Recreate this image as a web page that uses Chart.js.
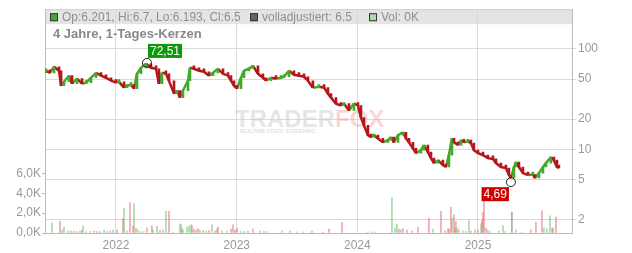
<!DOCTYPE html>
<html>
<head>
<meta charset="utf-8">
<script src="https://cdn.jsdelivr.net/npm/chart.js@4/dist/chart.umd.min.js"></script>
<style>
  html, body { margin: 0; padding: 0; background: #fff; }
  #wrap { width: 632px; height: 253px; }
</style>
</head>
<body>
<div id="wrap"><canvas id="priceChart" width="632" height="253"></canvas></div>
<script>
// dates are decimal years
var candleDates = [
  2021.412, 2021.420, 2021.453, 2021.487, 2021.528, 2021.545, 2021.569, 2021.611, 2021.636, 2021.677,
  2021.719, 2021.752, 2021.793, 2021.835, 2021.876, 2021.917, 2021.959, 2022.000, 2022.025, 2022.067,
  2022.091, 2022.125, 2022.149, 2022.174, 2022.207, 2022.249, 2022.290, 2022.332, 2022.356, 2022.381,
  2022.414, 2022.439, 2022.481, 2022.506, 2022.530, 2022.555, 2022.597, 2022.613, 2022.646, 2022.688,
  2022.729, 2022.771, 2022.804, 2022.845, 2022.887, 2022.928, 2022.953, 2022.978, 2023.003, 2023.036,
  2023.061, 2023.102, 2023.135, 2023.177, 2023.218, 2023.243, 2023.284, 2023.326, 2023.367, 2023.392,
  2023.434, 2023.475, 2023.516, 2023.558, 2023.591, 2023.632, 2023.682, 2023.724, 2023.757, 2023.782,
  2023.823, 2023.864, 2023.889, 2023.931, 2023.972, 2024.005, 2024.030, 2024.055, 2024.088, 2024.113,
  2024.138, 2024.171, 2024.212, 2024.254, 2024.279, 2024.303, 2024.337, 2024.378, 2024.403, 2024.428,
  2024.461, 2024.486, 2024.527, 2024.552, 2024.585, 2024.610, 2024.635, 2024.668, 2024.709, 2024.734,
  2024.759, 2024.784, 2024.801, 2024.834, 2024.859, 2024.883, 2024.917, 2024.941, 2024.966, 2025.000,
  2025.041, 2025.082, 2025.124, 2025.149, 2025.190, 2025.231, 2025.256, 2025.273, 2025.298, 2025.314,
  2025.339, 2025.372, 2025.414, 2025.455, 2025.472, 2025.505, 2025.538, 2025.563, 2025.604, 2025.629,
  2025.654, 2025.670
];
var candleCloses = [
  59.2, 60.6, 57.8, 66.4, 60.6, 43.0, 47.1, 54.1, 45.0, 50.5,
  45.0, 46.1, 51.6, 57.8, 54.1, 51.6, 48.2, 46.1, 47.0, 41.1,
  43.0, 44.0, 40.2, 56.5, 64.8, 71.0, 64.8, 63.4, 45.0, 57.8,
  56.5, 48.2, 35.8, 38.4, 32.7, 38.4, 48.2, 64.8, 63.4, 60.6,
  59.2, 54.1, 57.8, 63.4, 56.5, 54.1, 48.2, 43.0, 40.2, 51.6,
  60.6, 63.4, 67.9, 56.5, 51.6, 48.2, 51.6, 50.5, 51.6, 52.8,
  60.6, 55.3, 54.1, 52.8, 48.2, 41.1, 42.0, 41.1, 35.8, 32.7,
  28.5, 27.3, 28.5, 24.3, 28.5, 27.3, 20.7, 17.3, 13.8, 13.2,
  13.8, 12.8, 11.7, 12.3, 13.2, 11.7, 13.8, 14.7, 12.8, 11.7,
  10.2, 9.13, 9.77, 11.0, 9.34, 8.14, 7.27, 7.78, 6.95, 6.64,
  8.72, 12.8, 11.7, 11.0, 12.3, 11.7, 12.0, 11.5, 9.77, 9.13,
  8.72, 8.14, 8.0, 7.27, 6.64, 6.49, 5.53, 5.16, 6.64, 7.43,
  6.64, 5.78, 5.53, 5.6, 5.16, 5.78, 6.64, 7.27, 8.33, 7.78,
  6.64, 6.5
];

// volume in thousands, u = up day, d = down day, n = unchanged
var volDates = [
  2021.470, 2021.536, 2021.553, 2021.569, 2021.603, 2021.627, 2021.652, 2021.677, 2021.702, 2021.719,
  2021.727, 2021.752, 2021.785, 2021.818, 2021.843, 2021.868, 2021.901, 2021.926, 2021.951, 2021.975,
  2022.009, 2022.058, 2022.067, 2022.091, 2022.116, 2022.141, 2022.149, 2022.166, 2022.183, 2022.207,
  2022.232, 2022.257, 2022.298, 2022.307, 2022.340, 2022.365, 2022.390, 2022.414, 2022.439, 2022.472,
  2022.530, 2022.539, 2022.547, 2022.555, 2022.588, 2022.605, 2022.622, 2022.630, 2022.646, 2022.663,
  2022.679, 2022.696, 2022.721, 2022.746, 2022.771, 2022.795, 2022.820, 2022.837, 2022.845, 2022.878,
  2022.920, 2022.953, 2022.970, 2022.986, 2023.003, 2023.036, 2023.061, 2023.094, 2023.135, 2023.193,
  2023.226, 2023.251, 2023.375, 2023.442, 2023.500, 2023.550, 2023.624, 2023.715, 2023.765, 2023.873,
  2024.088, 2024.121, 2024.146, 2024.287, 2024.312, 2024.328, 2024.345, 2024.361, 2024.378, 2024.411,
  2024.453, 2024.502, 2024.593, 2024.626, 2024.693, 2024.726, 2024.751, 2024.759, 2024.776, 2024.784,
  2024.801, 2024.809, 2024.817, 2024.826, 2024.842, 2024.875, 2024.900, 2024.925, 2024.941, 2024.975,
  2025.000, 2025.025, 2025.033, 2025.041, 2025.050, 2025.066, 2025.082, 2025.099, 2025.174, 2025.207,
  2025.223, 2025.281, 2025.314, 2025.364, 2025.439, 2025.480, 2025.530, 2025.546, 2025.571, 2025.596,
  2025.613, 2025.621, 2025.646
];
var volValues = [
  1.0, 1.17, 0.3, 0.6, 0.2, 0.2, 0.2, 0.15, 0.2, 0.3,
  0.73, 0.15, 0.15, 0.2, 0.15, 0.15, 0.3, 0.15, 0.2, 0.3,
  0.3, 1.43, 2.5, 0.2, 3.07, 0.73, 2.93, 0.5, 0.3, 0.15,
  0.15, 0.5, 0.73, 0.3, 0.67, 0.25, 0.3, 2.17, 2.17, 0.1,
  0.83, 0.93, 0.5, 0.3, 0.6, 0.73, 0.83, 0.73, 0.4, 0.3,
  0.45, 0.3, 0.25, 0.2, 0.25, 0.83, 0.2, 0.4, 0.6, 0.2,
  0.2, 0.4, 0.83, 0.3, 0.5, 0.15, 0.15, 0.2, 0.43, 0.2,
  0.15, 0.15, 0.2, 0.2, 0.1, 0.1, 0.2, 0.1, 0.4, 1.07,
  0.1, 0.1, 0.1, 3.53, 0.5, 0.93, 0.4, 0.3, 0.45, 0.3,
  0.2, 0.6, 1.5, 0.4, 2.17, 0.2, 0.4, 0.43, 2.6, 1.5,
  1.83, 0.5, 1.17, 0.5, 0.3, 0.2, 0.15, 1.23, 0.2, 0.3,
  0.3, 0.93, 1.27, 2.07, 3.5, 0.5, 0.3, 0.15, 0.2, 0.73,
  0.15, 2.07, 0.3, 0.1, 0.33, 1.07, 2.23, 0.5, 0.43, 1.73,
  0.5, 0.5, 1.6
];
var volDir = [
  "u", "d", "u", "u", "u", "d", "u", "d", "u", "d",
  "u", "d", "u", "d", "d", "u", "u", "d", "d", "u",
  "d", "d", "u", "u", "d", "d", "u", "d", "u", "u",
  "d", "d", "d", "u", "u", "d", "u", "u", "d", "d",
  "u", "u", "u", "d", "u", "u", "u", "d", "d", "u",
  "d", "u", "d", "u", "d", "u", "d", "d", "d", "u",
  "u", "d", "d", "d", "d", "u", "u", "u", "d", "d",
  "d", "d", "u", "d", "u", "u", "d", "d", "d", "d",
  "u", "u", "u", "u", "u", "u", "d", "u", "d", "d",
  "d", "d", "d", "u", "d", "d", "d", "d", "d", "u",
  "d", "d", "d", "u", "d", "u", "d", "u", "d", "u",
  "d", "u", "d", "d", "d", "d", "u", "u", "u", "u",
  "u", "n", "u", "u", "d", "d", "d", "u", "u", "u",
  "u", "d", "d"
];

var priceTicks = [2, 5, 10, 20, 50, 100];
var volTicks = [0, 2, 4, 6];
var yearTicks = [2022, 2023, 2024, 2025];
var highPoint = { date: 2022.257, value: 72.51, label: "72,51" };
var lowPoint = { date: 2025.273, value: 4.69, label: "4,69" };
var legendTexts = ["Op:6.201, Hi:6.7, Lo:6.193, Cl:6.5", "volladjustiert: 6.5", "Vol: 0K"];
var chartTitle = "4 Jahre, 1-Tages-Kerzen";

var FONT = "'Liberation Sans', Arial, sans-serif";
var UP = "#45a72c";
var DOWN = "#b5161c";

var candleData = candleCloses.map(function (c, i) {
  var open = i > 0 ? candleCloses[i - 1] : c;
  return { x: candleDates[i], y: [open, c] };
});
var candleColors = candleCloses.map(function (c, i) {
  var open = i > 0 ? candleCloses[i - 1] : c;
  return c >= open ? UP : DOWN;
});
var closeLine = candleCloses.map(function (c, i) {
  return { x: candleDates[i], y: c };
});
var volData = volValues.map(function (v, i) {
  return { x: volDates[i], y: v };
});
var volColors = volDir.map(function (d) {
  if (d === "u") return "rgba(110,195,110,0.6)";
  if (d === "d") return "rgba(232,120,130,0.65)";
  return "rgba(150,150,150,0.8)";
});

var frame = {
  id: "frame",
  beforeDraw: function (chart) {
    var a = chart.chartArea, ctx = chart.ctx;
    ctx.save();
    ctx.fillStyle = "#e4e4e4";
    ctx.fillRect(a.left, a.top, a.right - a.left, 15);
    ctx.strokeStyle = "#cfcfcf";
    ctx.lineWidth = 1;
    ctx.beginPath();
    ctx.moveTo(a.left, a.top + 0.5);
    ctx.lineTo(a.right, a.top + 0.5);
    ctx.stroke();
    ctx.restore();
  },
  beforeDatasetsDraw: function (chart) {
    var ctx = chart.ctx;
    ctx.save();
    ctx.font = "bold 24px " + FONT;
    ctx.textBaseline = "alphabetic";
    ctx.fillStyle = "rgba(205,205,205,0.5)";
    ctx.fillText("TRADER", 235, 127);
    var w = ctx.measureText("TRADER").width;
    ctx.fillStyle = "rgba(240,140,140,0.35)";
    ctx.fillText("FOX", 235 + w, 127);
    ctx.font = "bold 5px " + FONT;
    ctx.fillStyle = "rgba(200,200,200,0.6)";
    ctx.fillText("REALTIME STOCK SCREENING", 240, 133);
    ctx.restore();
  },
  afterDatasetsDraw: function (chart) {
    var ctx = chart.ctx;
    var xs = chart.scales.x, ys = chart.scales.yP;
    ctx.save();
    ctx.font = "12px " + FONT;
    ctx.textBaseline = "middle";
    ctx.textAlign = "center";
    [highPoint, lowPoint].forEach(function (p, k) {
      var cx = xs.getPixelForValue(p.date);
      var cy = ys.getPixelForValue(p.value);
      ctx.strokeStyle = "#222";
      ctx.lineWidth = 1;
      ctx.beginPath();
      ctx.arc(cx, cy, 4.5, 0, Math.PI * 2);
      ctx.stroke();
      var bw = ctx.measureText(p.label).width + 4;
      var bx, by;
      if (k === 0) {
        ctx.fillStyle = "#0a9a0a";
        bx = cx + 1; by = cy - 19;
      } else {
        ctx.fillStyle = "#cc0000";
        bx = cx - 2 - bw; by = cy + 5;
      }
      ctx.fillRect(bx, by, bw, 14);
      ctx.fillStyle = "#fff";
      ctx.fillText(p.label, bx + bw / 2, by + 7.5);
    });
    ctx.restore();
  },
  afterDraw: function (chart) {
    var a = chart.chartArea, ctx = chart.ctx;
    ctx.save();
    ctx.font = "12px " + FONT;
    ctx.textBaseline = "middle";
    var items = [
      { x: 50, fill: "#44aa33", text: legendTexts[0] },
      { x: 250, fill: "#666666", text: legendTexts[1] },
      { x: 369, fill: "#a8dca8", text: legendTexts[2] }
    ];
    items.forEach(function (it) {
      ctx.fillStyle = it.fill;
      ctx.fillRect(it.x, a.top + 4, 8, 8);
      ctx.strokeStyle = "#333";
      ctx.lineWidth = 1;
      ctx.strokeRect(it.x + 0.5, a.top + 4.5, 7, 7);
      ctx.fillStyle = "#8f8f8f";
      ctx.fillText(it.text, it.x + 12, a.top + 8.5);
    });
    ctx.font = "bold 13px " + FONT;
    ctx.fillStyle = "#888";
    ctx.fillText(chartTitle, 53, 34);
    ctx.restore();
  }
};

var ctxPrice = document.getElementById("priceChart").getContext("2d");
var priceChart = new Chart(ctxPrice, {
  type: "bar",
  data: {
    datasets: [
      {
        type: "line",
        label: "Schluss",
        data: closeLine,
        borderWidth: 2.5,
        pointRadius: 0,
        tension: 0,
        yAxisID: "yP",
        order: 1,
        segment: {
          borderColor: function (ctx) {
            return ctx.p1.parsed.y >= ctx.p0.parsed.y ? UP : DOWN;
          },
        },
      },
      {
        label: "Kurs",
        data: candleData,
        backgroundColor: candleColors,
        barThickness: 2,
        minBarLength: 3,
        grouped: false,
        yAxisID: "yP",
        order: 0,
      },
      {
        label: "Vol",
        data: volData,
        backgroundColor: volColors,
        barThickness: 1,
        grouped: false,
        yAxisID: "yV",
        order: 2,
      },
    ],
  },
  options: {
    responsive: false,
    animation: false,
    devicePixelRatio: 1,
    layout: { padding: { top: 8, left: 0, right: 0, bottom: 0 } },
    plugins: {
      legend: { display: false },
      title: { display: false },
      tooltip: { enabled: false },
    },
    scales: {
      x: {
        type: "linear",
        min: 2021.412,
        max: 2025.779,
        offset: false,
        grid: { color: "#dadada", offset: false, drawTicks: false },
        border: { color: "#bbbbbb" },
        afterBuildTicks: function (s) {
          s.ticks = yearTicks.map(function (v) { return { value: v }; });
        },
        afterFit: function (s) { s.height = 20; },
        ticks: {
          padding: 5,
          color: "#999",
          font: { family: FONT, size: 12 },
          maxRotation: 0,
          callback: function (v) { return String(v); },
        },
      },
      yP: {
        type: "logarithmic",
        position: "right",
        min: 1.46,
        max: 249,
        grid: { color: "#dadada", tickLength: 4 },
        border: { color: "#bbbbbb" },
        afterBuildTicks: function (s) {
          s.ticks = priceTicks.map(function (v) { return { value: v }; });
        },
        afterFit: function (s) { s.width = 60; },
        ticks: {
          padding: 2,
          color: "#999",
          font: { family: FONT, size: 12 },
          callback: function (v) { return String(v); },
        },
      },
      yV: {
        type: "linear",
        position: "left",
        min: 0,
        max: 22.5,
        grid: { drawOnChartArea: false, color: "#bbbbbb", tickLength: 3 },
        border: { color: "#bbbbbb" },
        afterBuildTicks: function (s) {
          s.ticks = volTicks.map(function (v) { return { value: v }; });
        },
        afterFit: function (s) { s.width = 45; },
        ticks: {
          padding: 1,
          color: "#999",
          font: { family: FONT, size: 12 },
          callback: function (v) { return v.toFixed(1).replace(".", ",") + "K"; },
        },
      },
    },
  },
  plugins: [frame],
});
</script>
</body>
</html>
